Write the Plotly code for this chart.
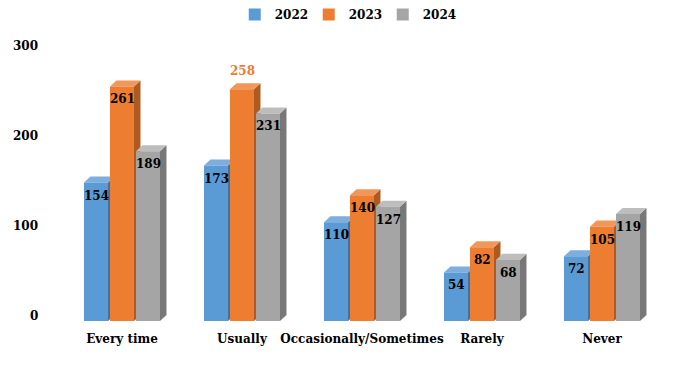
import plotly.graph_objects as go

categories = ["Every time", "Usually", "Occasionally/Sometimes", "Rarely", "Never"]
series_names = ["2022", "2023", "2024"]
values_2022 = [154, 173, 110, 54, 72]
values_2023 = [261, 258, 140, 82, 105]
values_2024 = [189, 231, 127, 68, 119]
y_tick_values = [0, 100, 200, 300]

series_values = [values_2022, values_2023, values_2024]
front_colors = ["#5B9BD5", "#ED7D31", "#A5A5A5"]
side_colors = ["#41719C", "#AE5A21", "#787878"]
top_colors = ["#7DAEDD", "#F1975A", "#BDBDBD"]

FONT = "DejaVu Serif"
BAR_W = 0.2
OFFSETS = [-0.2167, 0.0, 0.2167]
DEPTH_X = 0.054   # depth of the 3D effect, in x-axis units
DEPTH_Y = 6.7     # depth of the 3D effect, in y-axis units

fig = go.Figure()
shapes = []
annotations = []

for s, (name, vals) in enumerate(zip(series_names, series_values)):
    xs = [i + OFFSETS[s] for i in range(len(categories))]
    fig.add_trace(go.Bar(
        x=xs, y=vals, width=BAR_W, name=name,
        marker=dict(color=front_colors[s], line=dict(width=0)),
        hoverinfo="y",
    ))
    for x, v in zip(xs, vals):
        x0, x1 = x - BAR_W / 2, x + BAR_W / 2
        # side face
        shapes.append(dict(
            type="path", xref="x", yref="y", layer="below",
            path=f"M {x1},0 L {x1 + DEPTH_X},{DEPTH_Y} L {x1 + DEPTH_X},{v + DEPTH_Y} L {x1},{v} Z",
            fillcolor=side_colors[s], line=dict(width=0),
        ))
        # top face
        shapes.append(dict(
            type="path", xref="x", yref="y", layer="below",
            path=f"M {x0},{v} L {x0 + DEPTH_X},{v + DEPTH_Y} L {x1 + DEPTH_X},{v + DEPTH_Y} L {x1},{v} Z",
            fillcolor=top_colors[s], line=dict(width=0),
        ))
        outside = (s == 1 and v == 258)
        annotations.append(dict(
            x=x, y=v, xref="x", yref="y", text=str(v), showarrow=False,
            yshift=18 if outside else -13,
            font=dict(family=FONT, size=12, weight="bold",
                      color=front_colors[1] if outside else "#000000"),
        ))

for t in y_tick_values:
    annotations.append(dict(
        x=0, y=t, xref="paper", yref="y", text=str(t), showarrow=False,
        xanchor="right", xshift=-22, yshift=5,
        font=dict(family=FONT, size=12, weight="bold", color="#000000"),
    ))

fig.update_layout(
    width=679, height=368,
    margin=dict(l=62, r=17, t=0, b=46.5),
    paper_bgcolor="white", plot_bgcolor="white",
    barmode="overlay",
    shapes=shapes, annotations=annotations,
    showlegend=True,
    legend=dict(orientation="h", x=0.2879, xanchor="left", y=1.0, yanchor="top",
                font=dict(family=FONT, size=12, weight="bold", color="#000000"),
                itemwidth=30, entrywidth=29, bgcolor="rgba(0,0,0,0)"),
    xaxis=dict(range=[-0.5, 4.5], tickmode="array", tickvals=list(range(len(categories))),
               ticktext=categories, showgrid=False, zeroline=False, showline=False,
               ticks="", ticklabelstandoff=9,
               tickfont=dict(family=FONT, size=12, weight="bold", color="#000000")),
    yaxis=dict(range=[0, 357.2], showgrid=False, zeroline=False, showline=False,
               showticklabels=False, ticks=""),
    font=dict(family=FONT),
)

fig.write_html("out.html", config={"displayModeBar": False},
               post_script="document.body.style.margin='0px';")
